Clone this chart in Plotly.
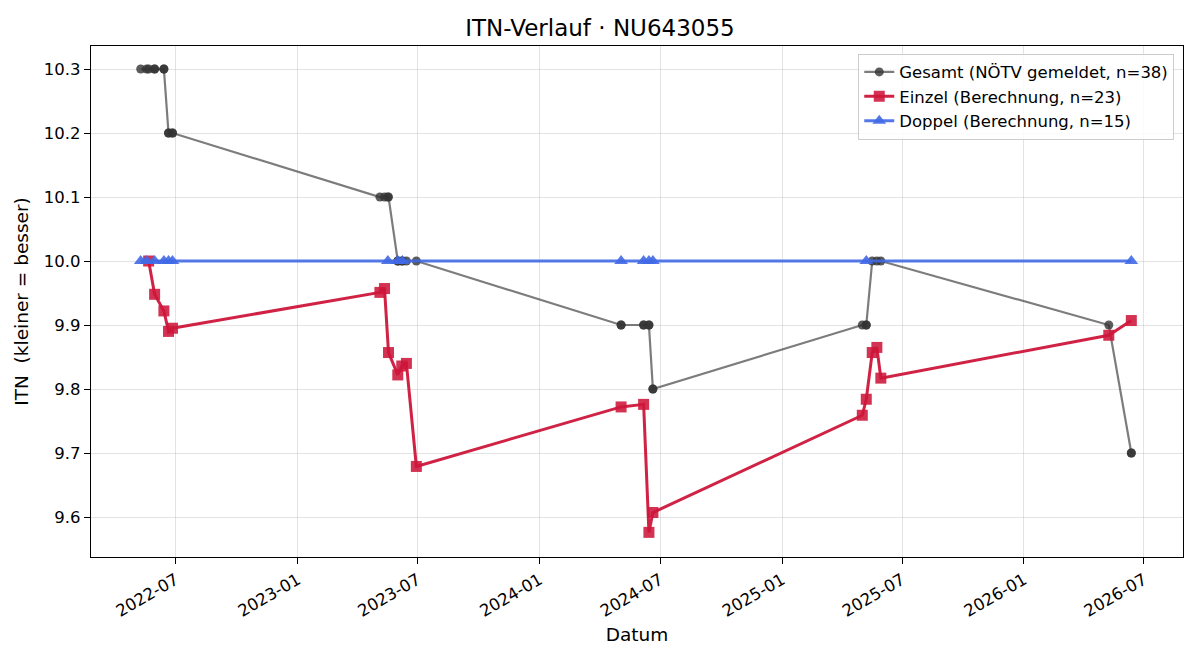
import plotly.graph_objects as go

# ---- data ----
gesamt_dates = [
    "2022-05-09", "2022-05-18", "2022-05-21", "2022-05-30", "2022-05-30", "2022-06-13", "2022-06-13",
    "2022-06-20", "2022-06-20", "2022-06-26", "2022-06-26",
    "2023-05-05", "2023-05-12", "2023-05-17", "2023-05-18", "2023-06-01", "2023-06-01",
    "2023-06-07", "2023-06-08", "2023-06-14", "2023-06-29",
    "2024-05-03", "2024-05-03", "2024-06-06", "2024-06-06", "2024-06-14", "2024-06-14",
    "2024-06-20", "2024-06-20",
    "2025-05-02", "2025-05-08", "2025-05-08", "2025-05-17", "2025-05-24", "2025-05-30",
    "2026-05-09", "2026-06-12", "2026-06-12",
]
gesamt_itn = [
    10.3, 10.3, 10.3, 10.3, 10.3, 10.3, 10.3,
    10.2, 10.2, 10.2, 10.2,
    10.1, 10.1, 10.1, 10.1, 10.0, 10.0,
    10.0, 10.0, 10.0, 10.0,
    9.9, 9.9, 9.9, 9.9, 9.9, 9.9,
    9.8, 9.8,
    9.9, 9.9, 9.9, 10.0, 10.0, 10.0,
    9.9, 9.7, 9.7,
]

einzel_dates = [
    "2022-05-21", "2022-05-30", "2022-06-13", "2022-06-20", "2022-06-26",
    "2023-05-05", "2023-05-12", "2023-05-18", "2023-06-01", "2023-06-07", "2023-06-14", "2023-06-29",
    "2024-05-03", "2024-06-06", "2024-06-14", "2024-06-20",
    "2025-05-02", "2025-05-08", "2025-05-17", "2025-05-24", "2025-05-30",
    "2026-05-09", "2026-06-12",
]
einzel_itn = [
    10.000, 9.948, 9.922, 9.890, 9.895,
    9.951, 9.957, 9.857, 9.822, 9.836, 9.840, 9.679,
    9.772, 9.776, 9.576, 9.607,
    9.759, 9.784, 9.857, 9.865, 9.817,
    9.884, 9.907,
]

doppel_dates = [
    "2022-05-09", "2022-05-18", "2022-05-30", "2022-06-13", "2022-06-20", "2022-06-26",
    "2023-05-17", "2023-06-01", "2023-06-08",
    "2024-05-03", "2024-06-06", "2024-06-14", "2024-06-20",
    "2025-05-08",
    "2026-06-12",
]
doppel_itn = [10.0] * 15

title_text = "ITN-Verlauf · NU643055"
x_title = "Datum"
y_title = "ITN  (kleiner = besser)"

FONT = "DejaVu Sans"

fig = go.Figure()

fig.add_trace(go.Scatter(
    x=gesamt_dates, y=gesamt_itn, mode="lines+markers",
    name="Gesamt (NÖTV gemeldet, n=38)",
    line=dict(color="rgba(68,68,68,0.7)", width=2.2),
    marker=dict(symbol="circle", size=9, color="rgba(51,51,51,0.8)", line=dict(width=0)),
))
fig.add_trace(go.Scatter(
    x=einzel_dates, y=einzel_itn, mode="lines+markers",
    name="Einzel (Berechnung, n=23)",
    line=dict(color="rgba(205,22,58,0.95)", width=3),
    marker=dict(symbol="square", size=11, color="rgba(205,22,58,0.88)", line=dict(width=0)),
))
fig.add_trace(go.Scatter(
    x=doppel_dates, y=doppel_itn, mode="lines+markers",
    name="Doppel (Berechnung, n=15)",
    line=dict(color="rgba(65,105,230,0.9)", width=3),
    marker=dict(symbol="triangle-up", size=12, color="rgba(65,105,230,0.9)", line=dict(width=0)),
))

axis_common = dict(
    showline=True, linecolor="black", linewidth=1.3, mirror=True,
    ticks="outside", ticklen=6, tickcolor="black",
    showgrid=True, gridcolor="rgba(176,176,176,0.35)", gridwidth=1,
    zeroline=False,
    tickfont=dict(family=FONT, size=16.5, color="black"),
)

fig.update_layout(
    width=1200, height=660,
    paper_bgcolor="white", plot_bgcolor="white",
    margin=dict(l=91, r=17, t=46, b=103),
    title=dict(text=title_text, x=0.5, xanchor="center", y=0.957, yanchor="middle",
               font=dict(family=FONT, size=23, color="black")),
    font=dict(family=FONT, color="black"),
    showlegend=True,
    legend=dict(
        x=0.992, xanchor="right", y=0.985, yanchor="top",
        bgcolor="rgba(255,255,255,0.85)", bordercolor="#cccccc", borderwidth=1,
        font=dict(family=FONT, size=16.5, color="black"),
        tracegroupgap=2,
    ),
    xaxis=dict(
        **axis_common,
        type="date",
        range=["2022-02-23", "2026-08-29"],
        tick0="2022-07-01", dtick="M6", tickformat="%Y-%m",
        tickangle=-30,
        title=dict(text=x_title, font=dict(family=FONT, size=18.5, color="black"), standoff=8),
    ),
    yaxis=dict(
        **axis_common,
        range=[9.5375, 10.336],
        tickvals=[9.6, 9.7, 9.8, 9.9, 10.0, 10.1, 10.2, 10.3],
        tickformat=".1f",
        title=dict(text=y_title, font=dict(family=FONT, size=18.5, color="black"), standoff=10),
    ),
)

fig.write_html("out.html")
